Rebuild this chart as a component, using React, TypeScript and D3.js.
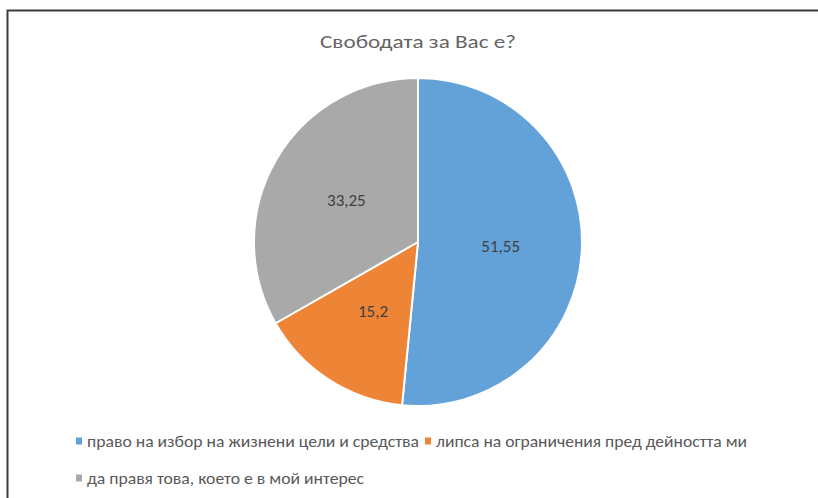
import React from "react";
import * as d3 from "d3";

const categories = [
  "право на избор на жизнени цели и средства",
  "липса на ограничения пред дейността ми",
  "да правя това, което е в мой интерес",
];
const values = [51.55, 15.2, 33.25];
const valueLabels = ["51,55", "15,2", "33,25"];
const colors = ["#62A2D8", "#ED8436", "#A9A9A9"];
const title = "Свободата за Вас е?";

const W = 818;
const H = 498;
const cx = 418;
const cy = 242;
const R = 164;

export default function App() {
  const pie = d3.pie<number>().sort(null).value((d) => d)(values);
  const arc = d3.arc<d3.PieArcDatum<number>>().innerRadius(0).outerRadius(R);
  const font = "Carlito, Calibri, 'Open Sans', 'Noto Sans', sans-serif";
  const legendWidths = [332, 311, 277];
  const legendPos = [
    { x: 76, y: 441 },
    { x: 425, y: 441 },
    { x: 76, y: 478 },
  ];
  return (
    <svg width={W} height={H} style={{ position: "absolute", left: 0, top: 0, background: "#fff" }}>
      <rect x={0} y={0} width={W} height={H} fill="#fff" />
      <path d={`M7.5,${H} V10.5 H${W}`} fill="none" stroke="#3a3a3a" strokeWidth={2} />
      <text x={418} y={48} textAnchor="middle" fontFamily={font} fontSize={19} fill="#646464" textLength={196} lengthAdjust="spacingAndGlyphs">
        {title}
      </text>
      <g transform={`translate(${cx},${cy})`}>
        {pie.map((p, i) => (
          <path key={i} d={arc(p) || ""} fill={colors[i]} stroke="#fff" strokeWidth={2} strokeLinejoin="round" />
        ))}
        {pie.map((p, i) => {
          const a = (p.startAngle + p.endAngle) / 2;
          const r = R * 0.505;
          return (
            <text key={i} x={Math.sin(a) * r} y={-Math.cos(a) * r} dy="0.35em" textAnchor="middle" fontFamily={font} fontSize={17} fill="#404040">
              {valueLabels[i]}
            </text>
          );
        })}
      </g>
      {categories.map((c, i) => (
        <g key={i}>
          <rect x={legendPos[i].x} y={legendPos[i].y - 3.5} width={6} height={7} fill={colors[i]} />
          <text x={legendPos[i].x + 11} y={legendPos[i].y} dy="0.35em" fontFamily={font} fontSize={16} fill="#595959" textLength={legendWidths[i]} lengthAdjust="spacingAndGlyphs">
            {c}
          </text>
        </g>
      ))}
    </svg>
  );
}
